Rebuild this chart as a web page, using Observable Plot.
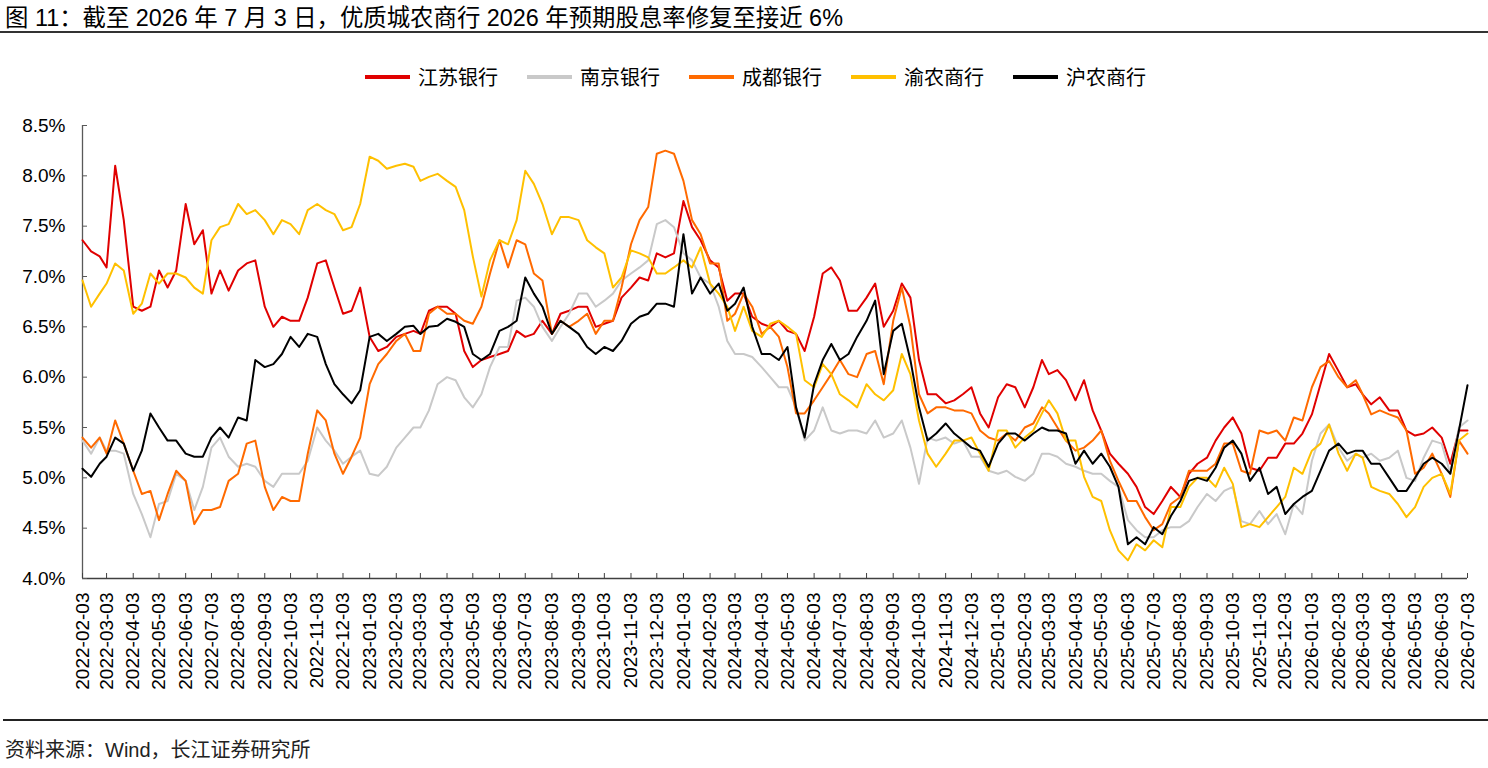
<!DOCTYPE html>
<html>
<head>
<meta charset="utf-8">
<script src="https://cdn.jsdelivr.net/npm/d3@7"></script>
<script src="https://cdn.jsdelivr.net/npm/@observablehq/plot@0.6"></script>
<style>
  html, body { margin: 0; padding: 0; background: #fff; }
  body { width: 1488px; height: 768px; position: relative; overflow: hidden;
         font-family: "Liberation Sans", Arial, "Noto Sans CJK SC", sans-serif; color: #000; }
  #title { position: absolute; left: 5px; top: 5px; font-size: 23.4px; line-height: 27px; white-space: nowrap; }
  #tline { position: absolute; left: 0; top: 31px; width: 1488px; height: 2px; background: #333; }
  #legend { position: absolute; left: 365px; top: 65px; display: flex; gap: 29px;
            font-size: 20px; line-height: 24px; font-family: "Noto Sans CJK SC", sans-serif; }
  .item { display: flex; align-items: center; }
  .sw { width: 45px; height: 3.5px; margin-right: 8px; }
  #chart { position: absolute; left: 0; top: 100px; }
  #fline { position: absolute; left: 3px; top: 719px; width: 1485px; height: 1.5px; background: #222; }
  #source { position: absolute; left: 5px; top: 738px; font-size: 20px; line-height: 24px; color: #222; white-space: nowrap; }
</style>
</head>
<body>
<div id="title">图 11：截至 2026 年 7 月 3 日，优质城农商行 2026 年预期股息率修复至接近 6%</div>
<div id="tline"></div>
<div id="legend"></div>
<div id="chart"></div>
<div id="fline"></div>
<div id="source">资料来源：Wind，长江证券研究所</div>
<script>
// ---- data ----
const months = [
  "2022-02","2022-03","2022-04","2022-05","2022-06","2022-07","2022-08","2022-09","2022-10","2022-11","2022-12",
  "2023-01","2023-02","2023-03","2023-04","2023-05","2023-06","2023-07","2023-08","2023-09","2023-10","2023-11","2023-12",
  "2024-01","2024-02","2024-03","2024-04","2024-05","2024-06","2024-07","2024-08","2024-09","2024-10","2024-11","2024-12",
  "2025-01","2025-02","2025-03","2025-04","2025-05","2025-06","2025-07","2025-08","2025-09","2025-10","2025-11","2025-12",
  "2026-01","2026-02","2026-03","2026-04","2026-05","2026-06","2026-07"
];
const sampleDays = ["03", "13", "23"];
const lastDate = "2026-07-03";
const xTickLabels = months.map(m => m + "-03");
const yTicks = [4.0, 4.5, 5.0, 5.5, 6.0, 6.5, 7.0, 7.5, 8.0, 8.5];

const seriesNames = ["江苏银行", "南京银行", "成都银行", "渝农商行", "沪农商行"];
const seriesColors = ["#E00000", "#C9C9C9", "#FF6A00", "#FFC000", "#000000"];

const jiangsu = [
  7.36,7.25,7.20,7.09,8.10,7.56,6.70,6.66,6.70,7.06,6.89,7.06,7.72,7.32,7.46,6.83,7.06,6.86,7.06,7.13,7.16,6.70,6.50,6.60,6.56,6.56,6.79,
  7.13,7.16,6.89,6.63,6.66,6.89,6.40,6.26,6.30,6.40,6.43,6.46,6.43,6.66,6.70,6.70,6.63,6.26,6.10,6.17,6.20,6.23,6.26,6.46,6.40,
  6.43,6.56,6.43,6.63,6.66,6.70,6.70,6.50,6.53,6.56,6.79,6.89,6.99,6.96,7.23,7.19,7.23,7.75,7.49,7.36,7.16,7.09,6.76,6.83,
  6.83,6.60,6.53,6.50,6.56,6.46,6.43,6.26,6.60,7.03,7.09,6.96,6.66,6.66,6.79,6.93,6.50,6.66,6.93,6.79,6.17,5.83,5.83,5.74,5.77,
  5.83,5.90,5.64,5.50,5.80,5.93,5.90,5.70,5.90,6.17,6.03,6.07,5.97,5.77,5.97,5.67,5.47,5.24,5.14,5.04,4.91,4.71,4.64,4.77,4.91,
  4.81,5.04,5.14,5.20,5.37,5.50,5.60,5.44,5.10,5.07,5.20,5.20,5.34,5.34,5.44,5.63,5.93,6.23,6.06,5.90,5.93,5.83,5.73,
  5.80,5.67,5.67,5.47,5.42,5.44,5.50,5.40,5.14,5.47,5.47
];
const nanjing = [
  5.37,5.24,5.40,5.27,5.27,5.24,4.84,4.64,4.41,4.74,4.77,5.04,4.97,4.68,4.91,5.30,5.40,5.21,5.11,5.14,5.11,4.97,4.91,5.04,5.04,5.04,5.17,
  5.50,5.37,5.27,5.14,5.21,5.27,5.04,5.02,5.11,5.30,5.40,5.50,5.50,5.67,5.93,6.00,5.97,5.80,5.70,5.83,6.10,6.30,6.30,6.76,6.79,
  6.70,6.50,6.36,6.50,6.63,6.83,6.83,6.70,6.76,6.83,6.96,7.03,7.09,7.16,7.52,7.56,7.49,7.23,7.16,6.99,6.93,6.70,6.36,6.23,
  6.23,6.20,6.10,6.00,5.90,5.90,5.70,5.37,5.47,5.70,5.47,5.44,5.47,5.47,5.44,5.57,5.40,5.44,5.57,5.30,4.94,5.40,5.37,5.40,5.34,
  5.37,5.21,5.21,5.07,5.04,5.07,5.01,4.97,5.04,5.24,5.24,5.21,5.14,5.11,5.07,5.04,5.04,4.97,4.91,4.58,4.48,4.41,4.41,4.48,4.51,
  4.51,4.57,4.71,4.84,4.77,4.87,4.91,4.57,4.54,4.67,4.54,4.64,4.44,4.74,4.64,5.17,5.44,5.53,5.30,5.17,5.24,5.20,5.24,
  5.17,5.20,5.27,5.00,4.97,5.20,5.37,5.34,5.04,5.50,5.57
];
const chengdu = [
  5.40,5.30,5.40,5.24,5.57,5.34,5.07,4.84,4.87,4.58,4.84,5.07,4.97,4.54,4.68,4.68,4.71,4.97,5.04,5.34,5.37,4.91,4.68,4.81,4.77,4.77,5.24,
  5.67,5.57,5.24,5.04,5.21,5.40,5.93,6.13,6.23,6.36,6.43,6.26,6.26,6.63,6.70,6.63,6.63,6.56,6.53,6.70,7.03,7.36,7.09,7.36,7.32,
  7.03,6.96,6.43,6.56,6.50,6.56,6.63,6.43,6.56,6.56,6.89,7.32,7.56,7.69,8.22,8.25,8.22,7.95,7.56,7.42,7.13,7.13,6.56,6.63,
  6.83,6.70,6.43,6.50,6.40,6.10,5.64,5.64,5.77,5.90,6.03,6.17,6.03,6.00,6.23,6.26,5.93,6.56,6.89,6.50,5.83,5.64,5.70,5.70,5.67,
  5.67,5.64,5.47,5.40,5.37,5.44,5.37,5.50,5.54,5.70,5.64,5.50,5.37,5.27,5.30,5.37,5.47,5.17,4.97,4.77,4.77,4.61,4.48,4.54,4.74,
  4.81,5.07,5.07,5.07,5.14,5.34,5.34,5.07,5.04,5.47,5.44,5.47,5.37,5.60,5.57,5.90,6.10,6.16,6.00,5.90,5.97,5.83,5.63,
  5.67,5.63,5.60,5.47,5.04,5.10,5.24,5.04,4.81,5.37,5.24
];
const yunong = [
  6.96,6.70,6.83,6.93,7.13,7.06,6.63,6.73,7.03,6.93,7.03,7.03,6.99,6.89,6.83,7.36,7.49,7.52,7.72,7.62,7.66,7.56,7.42,7.56,7.52,7.42,7.66,
  7.72,7.66,7.62,7.46,7.49,7.72,8.19,8.15,8.07,8.10,8.12,8.09,7.95,7.99,8.02,7.95,7.89,7.66,7.20,6.80,7.16,7.36,7.32,7.56,8.05,
  7.92,7.72,7.42,7.59,7.59,7.56,7.36,7.29,7.23,6.89,6.99,7.26,7.23,7.19,7.03,7.03,7.09,7.16,7.09,7.29,6.93,6.83,6.70,6.46,
  6.70,6.46,6.40,6.53,6.56,6.50,6.43,5.97,5.90,6.13,6.03,5.83,5.77,5.70,5.93,5.83,5.77,5.87,6.23,6.03,5.57,5.24,5.11,5.24,5.37,
  5.37,5.40,5.24,5.07,5.47,5.47,5.30,5.40,5.47,5.64,5.77,5.64,5.37,5.37,5.01,4.81,4.77,4.48,4.28,4.18,4.34,4.28,4.38,4.31,4.71,
  4.71,4.91,5.00,5.00,4.91,5.10,4.94,4.51,4.54,4.51,4.61,4.71,4.81,5.10,5.04,5.27,5.34,5.53,5.24,5.07,5.24,5.20,4.91,
  4.87,4.84,4.74,4.61,4.71,4.91,5.00,5.04,4.84,5.37,5.44
];
const hunong = [
  5.09,5.01,5.14,5.21,5.40,5.34,5.07,5.27,5.64,5.50,5.37,5.37,5.24,5.21,5.21,5.40,5.50,5.40,5.60,5.57,6.17,6.10,6.13,6.23,6.40,6.30,6.43,
  6.40,6.13,5.93,5.83,5.74,5.87,6.40,6.43,6.36,6.43,6.50,6.51,6.43,6.50,6.51,6.58,6.55,6.50,6.23,6.17,6.23,6.46,6.50,6.56,6.99,
  6.83,6.70,6.43,6.56,6.50,6.43,6.30,6.23,6.30,6.26,6.36,6.53,6.60,6.63,6.73,6.73,6.70,7.42,6.83,6.99,6.83,6.93,6.66,6.73,
  6.89,6.50,6.23,6.23,6.17,6.30,5.70,5.40,5.93,6.17,6.33,6.17,6.23,6.40,6.56,6.76,6.03,6.46,6.53,6.17,5.70,5.37,5.44,5.54,5.44,
  5.37,5.30,5.27,5.11,5.34,5.44,5.44,5.37,5.44,5.50,5.47,5.47,5.44,5.14,5.27,5.14,5.24,5.11,4.91,4.34,4.41,4.34,4.51,4.44,4.62,
  4.77,4.97,5.00,4.97,5.10,5.30,5.37,5.24,4.97,5.10,4.84,4.91,4.64,4.74,4.81,4.87,5.07,5.27,5.34,5.24,5.27,5.27,5.14,
  5.14,5.00,4.87,4.87,5.00,5.14,5.20,5.14,5.04,5.47,5.92
];
const seriesValues = [jiangsu, nanjing, chengdu, yunong, hunong];

// ---- build ----
const parse = d3.utcParse("%Y-%m-%d");
const dates = months.flatMap(m => sampleDays.map(d => `${m}-${d}`)).filter(s => s <= lastDate);
const xTicks = xTickLabels.map(parse);
const xDomain = [parse(xTickLabels[0]), parse(lastDate)];

const legend = document.getElementById("legend");
seriesNames.forEach((name, k) => {
  const it = document.createElement("div");
  it.className = "item";
  it.innerHTML = `<span class="sw" style="background:${seriesColors[k]}"></span><span>${name}</span>`;
  legend.appendChild(it);
});

const lineMarks = seriesNames.map((name, k) => {
  const rows = seriesValues[k].map((v, i) => ({date: parse(dates[i]), value: v, series: name}));
  return Plot.line(rows, {x: "date", y: "value", stroke: seriesColors[k], strokeWidth: 2, strokeLinejoin: "round"});
});

const chart = Plot.plot({
  width: 1488,
  height: 600,
  marginTop: 25,
  marginBottom: 122,
  marginLeft: 82,
  marginRight: 21,
  style: {fontFamily: '"Liberation Sans", Arial, sans-serif', fontSize: "19px", color: "#000", background: "transparent", overflow: "visible"},
  x: {type: "utc", domain: xDomain},
  y: {domain: [4, 8.5]},
  marks: [
    Plot.ruleX([xDomain[0]], {stroke: "#595959", strokeWidth: 1.3}),
    Plot.ruleY([4], {stroke: "#404040", strokeWidth: 1.3}),
    Plot.axisY({ticks: yTicks, tickFormat: d => d.toFixed(1) + "%", tickSize: 5, dx: 5, tickPadding: 17, label: null, stroke: "#595959"}),
    Plot.axisX({ticks: xTicks, tickFormat: d3.utcFormat("%Y-%m-%d"), tickRotate: -90, tickSize: 5, dy: -5, tickPadding: 14, label: null, stroke: "#404040"}),
    ...lineMarks
  ]
});
document.getElementById("chart").appendChild(chart);
</script>
</body>
</html>
